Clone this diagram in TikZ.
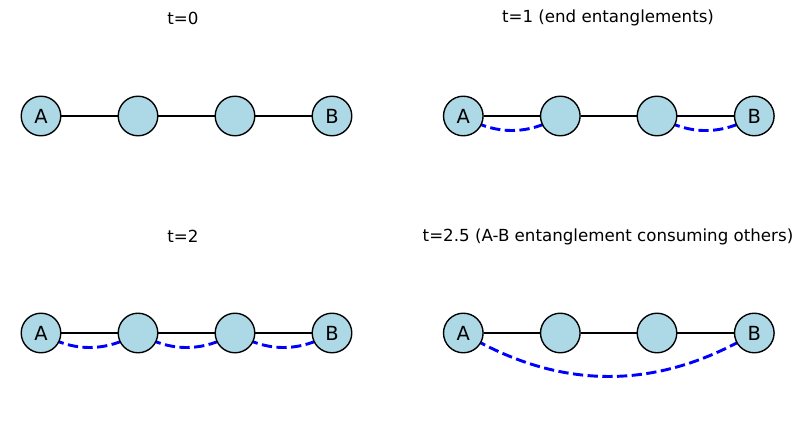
\documentclass[tikz,border=0pt]{standalone}
\usepackage{fontspec}
\setmainfont{DejaVu Sans}
\usetikzlibrary{backgrounds}
\definecolor{nodefill}{HTML}{ADD8E6}
\begin{document}
\begin{tikzpicture}[x=0.72pt,y=-0.72pt,
  qnode/.style={circle,draw=black,line width=1pt,fill=nodefill,minimum size=28.5pt,inner sep=0pt,font=\fontsize{14}{16}\selectfont},
  link/.style={line width=2.1pt,black},
  ent/.style={line width=2.1pt,blue,dash pattern=on 7.4pt off 3.2pt,bend right=30.96,looseness=0.993},
  ttl/.style={font=\fontsize{12}{14}\selectfont}]
\useasboundingbox (0,0) rectangle (803,427);
% panel 1
\node[ttl] (t0) at (183,18) {t=0};
\node[qnode] (a1) at (41,116) {A};
\node[qnode] (b1) at (138,116) {};
\node[qnode] (c1) at (235,116) {};
\node[qnode] (d1) at (332,116) {B};
% panel 2
\node[ttl] (t1) at (608,18) {t=1 (end entanglements)};
\node[qnode] (a2) at (463.3,116) {A};
\node[qnode] (b2) at (560.3,116) {};
\node[qnode] (c2) at (657,116) {};
\node[qnode] (d2) at (754.3,116) {B};
% panel 3
\node[ttl] (t2) at (183,236.5) {t=2};
\node[qnode] (a3) at (41,333) {A};
\node[qnode] (b3) at (138,333) {};
\node[qnode] (c3) at (235,333) {};
\node[qnode] (d3) at (332,333) {B};
% panel 4
\node[ttl] (t3) at (608,236.5) {t=2.5 (A-B entanglement consuming others)};
\node[qnode] (a4) at (463.3,333) {A};
\node[qnode] (b4) at (560.3,333) {};
\node[qnode] (c4) at (657,333) {};
\node[qnode] (d4) at (754.3,333) {B};
\begin{scope}[on background layer]
\draw[link] (a1) -- (b1) (b1) -- (c1) (c1) -- (d1);
\draw[link] (a2) -- (b2) (b2) -- (c2) (c2) -- (d2);
\draw[ent] (a2.center) to (b2.center);
\draw[ent] (c2.center) to (d2.center);
\draw[link] (a3) -- (b3) (b3) -- (c3) (c3) -- (d3);
\draw[ent] (a3.center) to (b3.center);
\draw[ent] (b3.center) to (c3.center);
\draw[ent] (c3.center) to (d3.center);
\draw[link] (a4) -- (b4) (b4) -- (c4) (c4) -- (d4);
\draw[ent] (a4.center) to (d4.center);
\end{scope}
\end{tikzpicture}
\end{document}
